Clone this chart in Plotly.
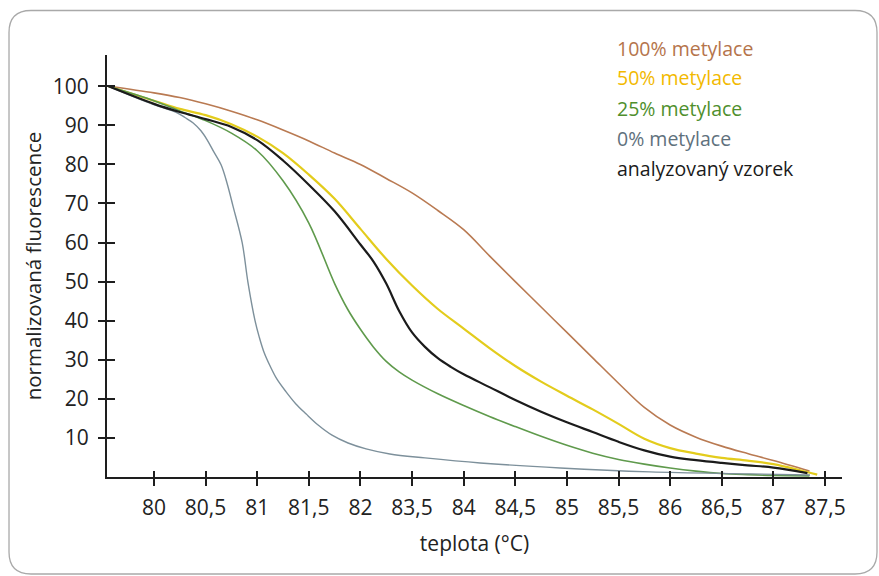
import plotly.graph_objects as go

# ---- data (x = position on the evenly spaced temperature scale, 0 = "80") ----
tick_labels = ["80", "80,5", "81", "81,5", "82", "83,5", "84", "84,5",
               "85", "85,5", "86", "86,5", "87", "87,5"]
y_ticks = [10, 20, 30, 40, 50, 60, 70, 80, 90, 100]

series_names = ["100% metylace", "50% metylace", "25% metylace",
                "0% metylace", "analyzovaný vzorek"]

x_100 = [-0.88, 0, 0.5, 1, 1.5, 2, 2.5, 3, 3.5, 4, 4.5, 5, 5.5, 6, 6.5, 7,
         7.5, 8, 8.5, 9, 9.5, 10, 10.5, 11, 11.5, 12, 12.7]
y_100 = [100, 98.3, 97.1, 95.5, 93.6, 91.4, 88.8, 86.0, 82.9, 80.0, 76.4,
         72.7, 68.2, 63.3, 56.6, 50.0, 43.5, 37.0, 30.5, 24.0, 17.8, 13.3,
         10.2, 7.9, 6.0, 4.2, 1.5]

x_50 = [-0.88, 0, 0.5, 1, 1.5, 2, 2.5, 3, 3.5, 4, 4.5, 5, 5.5, 6, 6.5, 7,
        7.5, 8, 8.5, 9, 9.5, 10, 10.5, 11, 11.5, 12, 12.5, 12.85]
y_50 = [100, 96.3, 94.2, 92.6, 90.3, 87.1, 82.9, 77.4, 71.2, 63.5, 55.8,
        49.0, 43.0, 38.0, 33.0, 28.4, 24.4, 20.8, 17.3, 13.6, 9.8, 7.4,
        6.0, 4.9, 4.2, 3.3, 1.8, 0.6]

x_25 = [-0.88, 0, 0.5, 1, 1.5, 2, 2.5, 3, 3.5, 3.75, 4, 4.25, 4.5, 4.75, 5,
        5.5, 6, 6.5, 7, 7.5, 8, 8.5, 9, 9.5, 10, 10.5, 11, 11.5, 12, 12.7]
y_25 = [100, 96.3, 93.7, 91.2, 88.0, 83.5, 75.8, 65.0, 49.5, 43.0, 37.8,
        33.3, 29.6, 26.9, 24.8, 21.3, 18.3, 15.5, 12.9, 10.4, 8.1, 6.1, 4.5,
        3.3, 2.3, 1.5, 0.9, 0.6, 0.4, 0.3]

x_0 = [-0.88, -0.08, 0.45, 0.60, 0.76, 0.91, 1.03, 1.16, 1.30, 1.42, 1.53,
       1.71, 1.82, 1.96, 2.04, 2.13, 2.25, 2.38, 2.56, 2.75, 2.95, 3.18,
       3.45, 3.76, 4.11, 4.57, 5.25, 6.32, 7.87, 9.61, 11.55, 12.71]
y_0 = [100, 95.7, 93.2, 92.0, 90.6, 88.6, 86.3, 83.2, 79.9, 75.0, 69.4,
       59.9, 49.9, 39.9, 35.8, 32.0, 28.4, 25.1, 21.8, 18.7, 16.1, 13.3,
       10.7, 8.7, 7.2, 5.9, 4.9, 3.6, 2.3, 1.3, 0.8, 0.5]

x_vz = [-0.88, 0, 0.5, 1, 1.5, 2, 2.5, 3, 3.5, 4, 4.25, 4.5, 4.75, 5, 5.25,
        5.5, 5.75, 6, 6.5, 7, 7.5, 8, 8.5, 9, 9.5, 10, 10.5, 11, 11.5, 12,
        12.66]
y_vz = [100, 95.5, 93.4, 91.6, 89.6, 86.2, 81.0, 74.8, 68.0, 59.5, 55.2,
        49.5, 42.5, 37.0, 33.3, 30.4, 28.2, 26.3, 23.0, 19.7, 16.7, 14.0,
        11.5, 9.0, 6.8, 5.2, 4.3, 3.6, 3.0, 2.4, 1.0]

# ---- styles ----
line_colors = ["#b97a52", "#e3cc1c", "#5f9a4c", "#7d909b", "#1b1b1b"]
text_colors = ["#b5744b", "#f2b900", "#4f8f2d", "#5f717d", "#1b1b1b"]
line_widths = [1.6, 2.2, 1.6, 1.4, 2.2]
FONT = "Open Sans"

W, H = 879, 576
L, R, T, B = 107, 37, 55, 99
PW, PH = W - L - R, H - T - B
X_RANGE = [-0.91, 13.33]
Y_RANGE = [0, 108]

fig = go.Figure()
all_x = [x_100, x_50, x_25, x_0, x_vz]
all_y = [y_100, y_50, y_25, y_0, y_vz]
for name, xs, ys, c, w in zip(series_names, all_x, all_y, line_colors, line_widths):
    fig.add_trace(go.Scatter(x=xs, y=ys, name=name, mode="lines",
                             line=dict(color=c, width=w, shape="spline", smoothing=1.0),
                             showlegend=False))

# legend as coloured text
legend_top_px = 48
legend_step_px = 30
for i, (name, c) in enumerate(zip(series_names, text_colors)):
    py = legend_top_px + i * legend_step_px
    fig.add_annotation(text=name, xref="paper", yref="paper",
                       x=(615 - L) / PW, y=(H - B - py) / PH,
                       xanchor="left", yanchor="middle", showarrow=False,
                       font=dict(family=FONT, size=19.5, color=c))

# rounded frame
def px2paper(px, py):
    return (px - L) / PW, (H - B - py) / PH

left, top, right, bottom, r = 9, 10.5, 877, 574, 22
pts = {
    "a": px2paper(left, top + r), "b": px2paper(left, top), "c": px2paper(left + r, top),
    "d": px2paper(right - r, top), "e": px2paper(right, top), "f": px2paper(right, top + r),
    "g": px2paper(right, bottom - r), "h": px2paper(right, bottom), "i": px2paper(right - r, bottom),
    "j": px2paper(left + r, bottom), "k": px2paper(left, bottom), "l": px2paper(left, bottom - r),
}
def P(k):
    return f"{pts[k][0]:.5f},{pts[k][1]:.5f}"
path = (f"M {P('a')} Q {P('b')} {P('c')} L {P('d')} Q {P('e')} {P('f')} "
        f"L {P('g')} Q {P('h')} {P('i')} L {P('j')} Q {P('k')} {P('l')} Z")
fig.add_shape(type="path", path=path, xref="paper", yref="paper",
              line=dict(color="#a9a9a9", width=1.3), layer="below")

axis_common = dict(showgrid=False, zeroline=False, linecolor="#1e1e1e", linewidth=2,
                   tickcolor="#1e1e1e", tickwidth=2)

fig.update_layout(
    width=W, height=H,
    margin=dict(l=L, r=R, t=T, b=B, autoexpand=False),
    paper_bgcolor="white", plot_bgcolor="white",
    font=dict(family=FONT, size=21, color="#222222"),
    xaxis=dict(range=X_RANGE, tickmode="array", tickvals=list(range(len(tick_labels))),
               ticktext=tick_labels, ticks="outside", ticklen=7, showline=True,
               tickfont=dict(size=21), ticklabelstandoff=4,
               title=dict(text="teplota (°C)", font=dict(size=21), standoff=16),
               **axis_common),
    yaxis=dict(range=Y_RANGE, tickmode="array", tickvals=y_ticks, ticks="outside",
               ticklen=7, showline=True, tickfont=dict(size=21), ticklabelstandoff=5,
               title=dict(text="normalizovaná fluorescence", font=dict(size=20.5), standoff=6),
               **axis_common),
    xaxis2=dict(range=X_RANGE, overlaying="x", side="bottom", tickmode="array",
                tickvals=list(range(len(tick_labels))), ticks="inside", ticklen=6,
                showticklabels=False, showline=False, **axis_common),
    yaxis2=dict(range=Y_RANGE, overlaying="y", side="left", tickmode="array",
                tickvals=y_ticks, ticks="inside", ticklen=8, showticklabels=False,
                showline=False, **axis_common),
)
# invisible trace so the overlay axes (inner half of the crossing ticks) are drawn
fig.add_trace(go.Scatter(x=[None], y=[None], xaxis="x2", yaxis="y2", showlegend=False,
                         hoverinfo="skip"))

fig.write_html("out.html")
